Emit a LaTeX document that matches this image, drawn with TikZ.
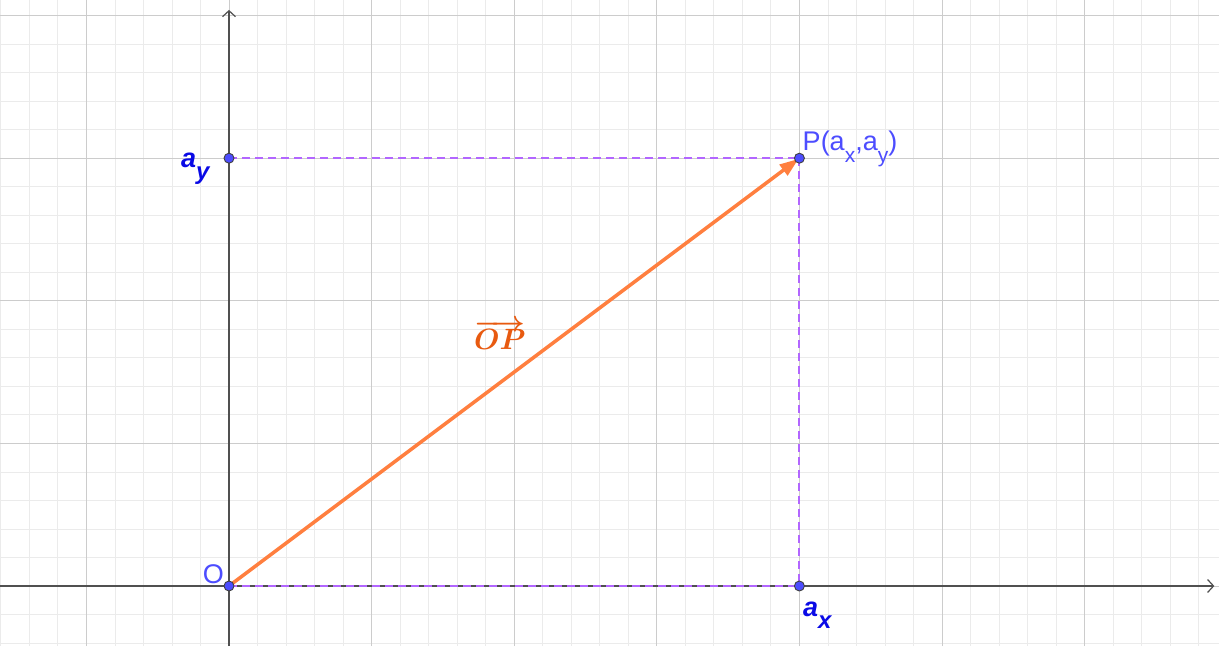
\documentclass[tikz,border=0pt]{standalone}
\usepackage{fontspec}
\usepackage{graphicx}
\setmainfont{Liberation Sans}
\usetikzlibrary{arrows.meta}
\definecolor{minorgrid}{HTML}{EBEBEB}
\definecolor{majorgrid}{HTML}{CCCCCC}
\definecolor{axiscol}{HTML}{505050}
\definecolor{vecol}{HTML}{FF7F3F}
\definecolor{veclab}{HTML}{E85A10}
\definecolor{dashcol}{HTML}{B266FF}
\definecolor{ptfill}{HTML}{4D4DFF}
\definecolor{ptlab}{HTML}{4D4DFF}
\definecolor{coordlab}{HTML}{0A0AE6}
\newcommand{\psub}[1]{\raisebox{-12pt}{\fontsize{21}{21}\selectfont #1}}
\newcommand{\bsub}[1]{\raisebox{-12pt}{\fontsize{24}{24}\selectfont\bfseries\itshape #1}}
\newcommand{\oplabel}{\scalebox{1.18}{\boldmath$\overrightarrow{OP}$}}
\begin{document}
\begin{tikzpicture}[x=142.6pt,y=142.6pt,
  minorline/.style={draw=minorgrid,line width=0.8pt},
  majorline/.style={draw=majorgrid,line width=0.9pt},
  axisline/.style={draw=axiscol,line width=1.3pt,-{Straight Barb[length=6pt,width=13pt,line width=1.2pt]}},
  projline/.style={draw=dashcol,line width=2pt,dash pattern=on 8pt off 5pt},
  vecline/.style={draw=vecol,line width=3.5pt,-{Triangle[length=19pt,width=13pt]},shorten >=1pt},
  ptdot/.style={circle,fill=ptfill,draw=black!75,line width=0.9pt,inner sep=0pt,minimum size=10pt},
  ptlabel/.style={text=ptlab,font=\fontsize{27}{27}\selectfont,inner sep=0pt},
  coordlabel/.style={text=coordlab,font=\fontsize{27}{27}\selectfont\bfseries\itshape,inner sep=0pt},
  veclabel/.style={text=veclab,font=\fontsize{24}{24}\selectfont,inner sep=0pt}]
\useasboundingbox[fill=white] (-1.6059,-0.4208) rectangle (6.9425,4.1094);
% grid
\draw[minorline,step=0.2] (-1.6059,-0.4208) grid (6.9425,4.1094);
\draw[majorline,step=1] (-1.6059,-0.4208) grid (6.9425,4.1094);
% axes
\coordinate (xl) at (-1.6059,0);
\coordinate (xr) at (6.91,0);
\coordinate (yb) at (0,-0.4208);
\coordinate (yt) at (0,4.04);
\draw[axisline] (xl) -- (xr);
\draw[axisline] (yb) -- (yt);
% points
\coordinate (O) at (0,0);
\coordinate (P) at (4,3);
\coordinate (AX) at (4,0);
\coordinate (AY) at (0,3);
% projections
\draw[projline] (AY) -- (P);
\draw[projline] (P) -- (AX);
\draw[projline] (O) -- (AX);
% vector
\draw[vecline] (O) -- (P);
% dots
\node[ptdot] (Odot) at (O) {};
\node[ptdot] (Pdot) at (P) {};
\node[ptdot] (AXdot) at (AX) {};
\node[ptdot] (AYdot) at (AY) {};
% labels
\node[ptlabel,anchor=base west] (Plab) at (4.022,3.0505) {P(a\psub{x},a\psub{y})};
\node[ptlabel,anchor=base] (Olab) at (-0.1087,0.0210) {O};
\node[coordlabel,anchor=base west] (aylab) at (-0.3366,2.938) {a\bsub{y}};
\node[coordlabel,anchor=base west] (axlab) at (4.025,-0.2174) {a\bsub{x}};
\node[veclabel,anchor=base] (OPlab) at (1.900,1.655) {\oplabel};
\end{tikzpicture}
\end{document}
